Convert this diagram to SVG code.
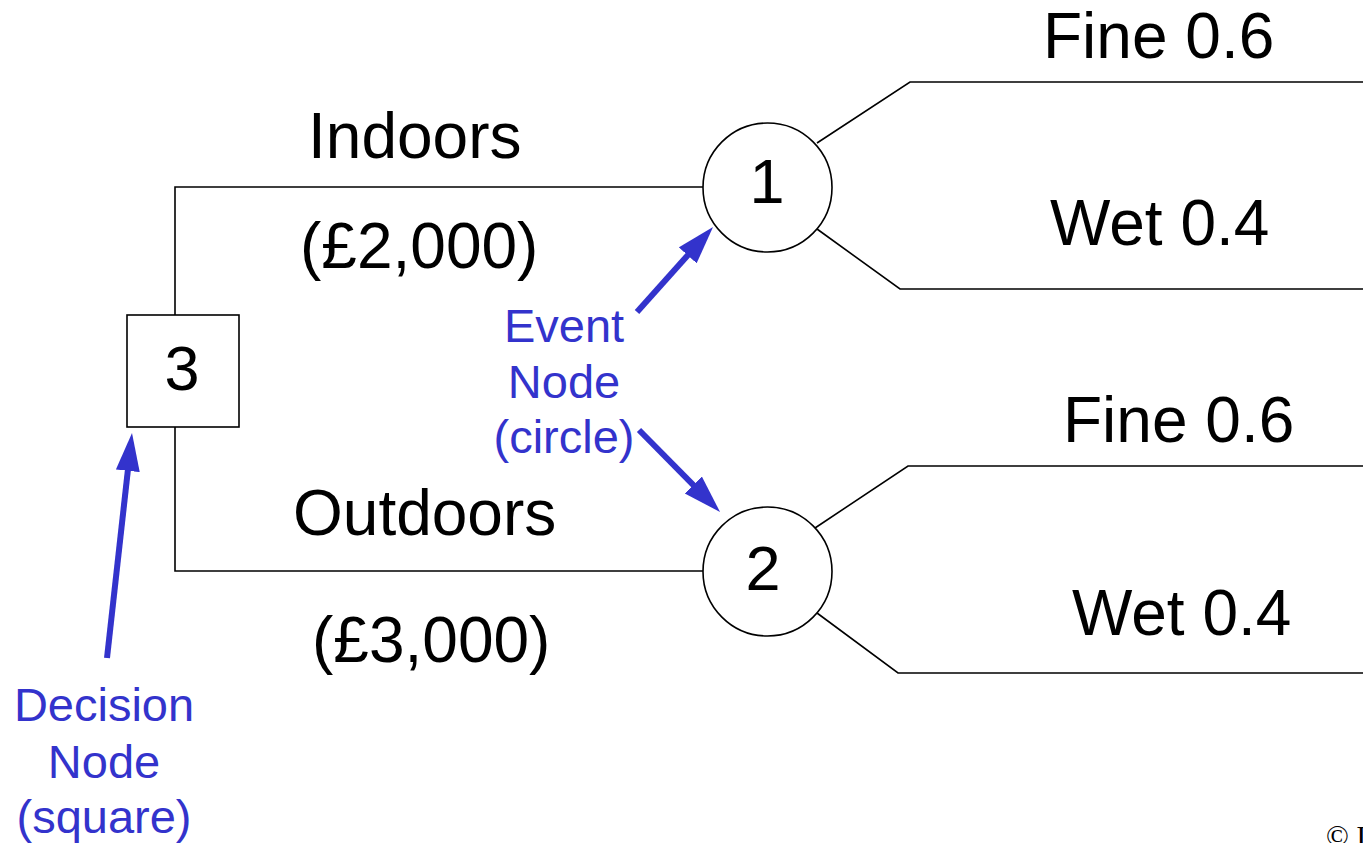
<svg xmlns="http://www.w3.org/2000/svg" width="1363" height="843" viewBox="0 0 1363 843">
  <style>
    .edge { fill: none; stroke: #000; stroke-width: 1.6; }
    .shape { fill: #fff; stroke: #000; stroke-width: 1.6; }
    .lbl { font-family: "Liberation Sans", Arial, sans-serif; font-size: 64px; fill: #000; }
    .num { font-family: "Liberation Sans", Arial, sans-serif; font-size: 63px; fill: #000; text-anchor: middle; }
    .note { font-family: "Liberation Sans", Arial, sans-serif; font-size: 47px; fill: #3333cc; text-anchor: middle; }
    .pointer { stroke: #3333cc; stroke-width: 6; fill: none; marker-end: url(#head); }
  </style>
  <defs>
    <!-- arrowhead: tip sits 20px beyond the end of the shaft -->
    <marker id="head" markerUnits="userSpaceOnUse" markerWidth="40" markerHeight="26" refX="18" refY="12" orient="auto">
      <path d="M0,0 L38,12 L0,24 Z" fill="#3333cc"/>
    </marker>
  </defs>
  <rect width="1363" height="843" fill="#fff"/>

  <!-- branches of the tree -->
  <g id="connectors">
    <polyline class="edge" points="175,315 175,187 703,187"/>
    <polyline class="edge" points="175,427 175,571 703,571"/>
    <polyline class="edge" points="817,143 910,82 1363,82"/>
    <polyline class="edge" points="817,229 900,289 1363,289"/>
    <polyline class="edge" points="815,528 908,466 1363,466"/>
    <polyline class="edge" points="817,613 898,673 1363,673"/>
  </g>

  <!-- decision node -->
  <g id="node-3">
    <rect class="shape" x="127" y="315" width="112" height="112"/>
    <text class="num" x="182" y="390">3</text>
  </g>

  <!-- event nodes -->
  <g id="node-1">
    <circle class="shape" cx="767.5" cy="187.5" r="64.5"/>
    <text class="num" x="767" y="203">1</text>
  </g>
  <g id="node-2">
    <circle class="shape" cx="767.5" cy="571.5" r="64.5"/>
    <text class="num" x="763" y="590">2</text>
  </g>

  <!-- branch labels -->
  <g id="labels">
    <text class="lbl" x="308" y="158">Indoors</text>
    <text class="lbl" x="300" y="268">(£2,000)</text>
    <text class="lbl" x="293" y="535">Outdoors</text>
    <text class="lbl" x="312" y="662">(£3,000)</text>
    <text class="lbl" x="1043" y="58">Fine 0.6</text>
    <text class="lbl" x="1050" y="245">Wet 0.4</text>
    <text class="lbl" x="1063" y="442">Fine 0.6</text>
    <text class="lbl" x="1072" y="635">Wet 0.4</text>
  </g>

  <!-- annotations -->
  <g id="event-note">
    <text class="note" x="564" y="342">Event</text>
    <text class="note" x="564" y="398">Node</text>
    <text class="note" x="564" y="453">(circle)</text>
    <line class="pointer" x1="637" y1="312" x2="699.7" y2="241.9"/>
    <line class="pointer" x1="639" y1="430" x2="706" y2="497.8"/>
  </g>
  <g id="decision-note">
    <text class="note" x="104" y="721">Decision</text>
    <text class="note" x="104" y="778">Node</text>
    <text class="note" x="104" y="833">(square)</text>
    <line class="pointer" x1="107" y1="658" x2="129.8" y2="452.9"/>
  </g>

  <text x="1326" y="846" font-family="Liberation Serif, 'Times New Roman', serif" font-size="30" fill="#000">© I</text>
</svg>
